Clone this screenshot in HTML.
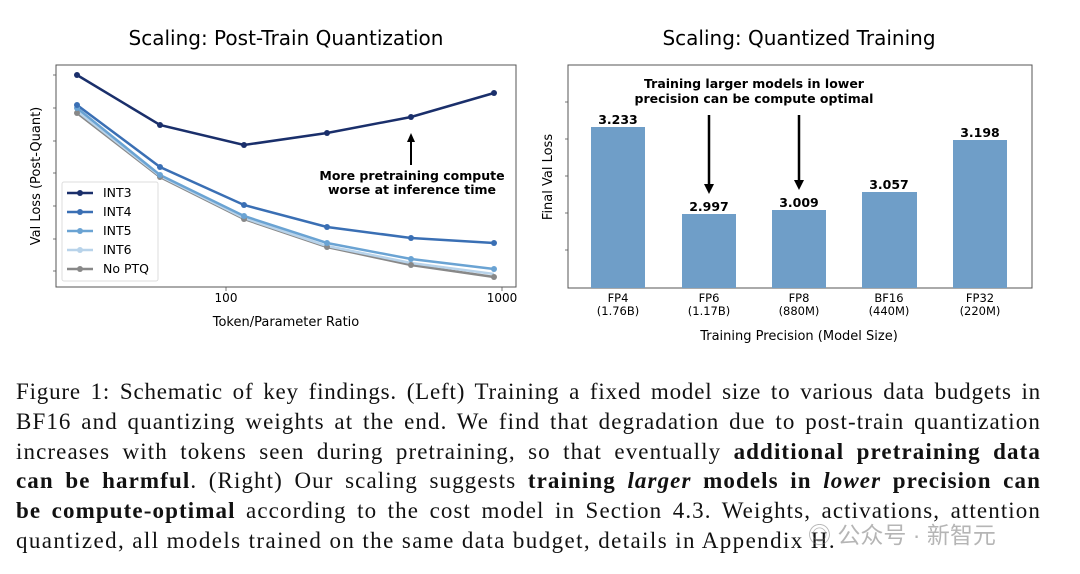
<!DOCTYPE html>
<html><head><meta charset="utf-8"><style>
body{margin:0;background:#fff;width:1080px;height:574px;overflow:hidden;position:relative}
svg{position:absolute;left:0;top:0}
.cap{position:absolute;left:16px;top:377px;width:1025px;font-family:"Liberation Serif",serif;font-size:23px;letter-spacing:1.1px;line-height:29.8px;color:#111}
.cap div{text-align:justify;text-align-last:justify;white-space:normal;height:29.8px;overflow:visible}
.cap div.f{letter-spacing:0.8px}
.cap div.l{text-align-last:left;letter-spacing:1.4px}
</style></head><body>
<svg width="1080" height="574" font-family="DejaVu Sans, Liberation Sans, sans-serif">
<text x="286" y="45" font-size="20" text-anchor="middle">Scaling: Post-Train Quantization</text>
<text x="799" y="45" font-size="20" text-anchor="middle">Scaling: Quantized Training</text>
<rect x="56" y="65" width="460" height="222" fill="none" stroke="#555" stroke-width="1"/>
<g stroke="#555" stroke-width="0.8">
<line x1="53" y1="75" x2="56" y2="75"/><line x1="53" y1="108" x2="56" y2="108"/><line x1="53" y1="141" x2="56" y2="141"/><line x1="53" y1="173" x2="56" y2="173"/><line x1="53" y1="206" x2="56" y2="206"/><line x1="53" y1="239" x2="56" y2="239"/><line x1="53" y1="271" x2="56" y2="271"/>
<line x1="226" y1="287" x2="226" y2="291"/><line x1="502" y1="287" x2="502" y2="291"/>
</g>
<text x="226" y="302" font-size="12" text-anchor="middle">100</text>
<text x="502" y="302" font-size="12" text-anchor="middle">1000</text>
<text x="286" y="326" font-size="13" text-anchor="middle">Token/Parameter Ratio</text>
<text transform="translate(40,176) rotate(-90)" font-size="13" text-anchor="middle">Val Loss (Post-Quant)</text>
<g fill="none" stroke-width="2.5">
<polyline stroke="#888" points="77,113 160,177 244,219 327,247 411,265 494,277"/>
<polyline stroke="#b8d3ea" points="77,111 160,176 244,218 327,246 411,263 494,274"/>
<polyline stroke="#6aa3d3" points="77,108 160,175 244,216 327,243 411,259 494,269"/>
<polyline stroke="#3a6fb4" points="77,105 160,167 244,205 327,227 411,238 494,243"/>
<polyline stroke="#1a2f6b" points="77,75 160,125 244,145 327,133 411,117 494,93"/>
</g>
<g fill="#888"><circle cx="77" cy="113" r="3"/><circle cx="160" cy="177" r="3"/><circle cx="244" cy="219" r="3"/><circle cx="327" cy="247" r="3"/><circle cx="411" cy="265" r="3"/><circle cx="494" cy="277" r="3"/></g>
<g fill="#6aa3d3"><circle cx="77" cy="108" r="3"/><circle cx="160" cy="175" r="3"/><circle cx="244" cy="216" r="3"/><circle cx="327" cy="243" r="3"/><circle cx="411" cy="259" r="3"/><circle cx="494" cy="269" r="3"/></g>
<g fill="#3a6fb4"><circle cx="77" cy="105" r="3"/><circle cx="160" cy="167" r="3"/><circle cx="244" cy="205" r="3"/><circle cx="327" cy="227" r="3"/><circle cx="411" cy="238" r="3"/><circle cx="494" cy="243" r="3"/></g>
<g fill="#1a2f6b"><circle cx="77" cy="75" r="3"/><circle cx="160" cy="125" r="3"/><circle cx="244" cy="145" r="3"/><circle cx="327" cy="133" r="3"/><circle cx="411" cy="117" r="3"/><circle cx="494" cy="93" r="3"/></g>
<line x1="411" y1="165" x2="411" y2="140" stroke="#000" stroke-width="2"/>
<polygon points="411,133 407,142 415,142" fill="#000"/>
<text x="412" y="180" font-size="12.5" font-weight="bold" text-anchor="middle">More pretraining compute</text>
<text x="412" y="194" font-size="12.5" font-weight="bold" text-anchor="middle">worse at inference time</text>
<rect x="62" y="182" width="96" height="99" fill="#fff" stroke="#ddd" rx="2"/>
<g stroke-width="2.5">
<line x1="67" y1="193" x2="93" y2="193" stroke="#1a2f6b"/><circle cx="80" cy="193" r="3" fill="#1a2f6b"/>
<line x1="67" y1="212" x2="93" y2="212" stroke="#3a6fb4"/><circle cx="80" cy="212" r="3" fill="#3a6fb4"/>
<line x1="67" y1="231" x2="93" y2="231" stroke="#6aa3d3"/><circle cx="80" cy="231" r="3" fill="#6aa3d3"/>
<line x1="67" y1="250" x2="93" y2="250" stroke="#b8d3ea"/><circle cx="80" cy="250" r="3" fill="#b8d3ea"/>
<line x1="67" y1="269" x2="93" y2="269" stroke="#888"/><circle cx="80" cy="269" r="3" fill="#888"/>
</g>
<g font-size="12.5"><text x="103" y="197">INT3</text><text x="103" y="216">INT4</text><text x="103" y="235">INT5</text><text x="103" y="254">INT6</text><text x="103" y="273">No PTQ</text></g>
<rect x="568" y="65" width="464" height="223" fill="none" stroke="#555" stroke-width="1"/>
<g stroke="#555" stroke-width="0.8">
<line x1="565" y1="102" x2="568" y2="102"/><line x1="565" y1="139" x2="568" y2="139"/><line x1="565" y1="176" x2="568" y2="176"/><line x1="565" y1="213" x2="568" y2="213"/><line x1="565" y1="250" x2="568" y2="250"/>
</g>
<g fill="#6f9ec8">
<rect x="591" y="127" width="54" height="161"/><rect x="682" y="214" width="54" height="74"/><rect x="772" y="210" width="54" height="78"/><rect x="862" y="192" width="55" height="96"/><rect x="953" y="140" width="54" height="148"/>
</g>
<g font-size="12.5" font-weight="bold" text-anchor="middle">
<text x="618" y="124">3.233</text><text x="709" y="211">2.997</text><text x="799" y="207">3.009</text><text x="889" y="189">3.057</text><text x="980" y="137">3.198</text>
<text x="754" y="88">Training larger models in lower</text><text x="754" y="103">precision can be compute optimal</text>
</g>
<g stroke="#000" stroke-width="2.5"><line x1="709" y1="115" x2="709" y2="186"/><line x1="799" y1="115" x2="799" y2="182"/></g>
<polygon points="709,194 704,184 714,184"/><polygon points="799,190 794,180 804,180"/>
<g font-size="11.5" text-anchor="middle">
<text x="618" y="302">FP4</text><text x="618" y="315">(1.76B)</text>
<text x="709" y="302">FP6</text><text x="709" y="315">(1.17B)</text>
<text x="799" y="302">FP8</text><text x="799" y="315">(880M)</text>
<text x="889" y="302">BF16</text><text x="889" y="315">(440M)</text>
<text x="980" y="302">FP32</text><text x="980" y="315">(220M)</text>
</g>
<text x="799" y="340" font-size="13" text-anchor="middle">Training Precision (Model Size)</text>
<text transform="translate(552,177) rotate(-90)" font-size="13" text-anchor="middle">Final Val Loss</text>
</svg>
<div class="cap">
<div class="f">Figure 1: Schematic of key findings. (Left) Training a fixed model size to various data budgets in</div>
<div>BF16 and quantizing weights at the end. We find that degradation due to post-train quantization</div>
<div>increases with tokens seen during pretraining, so that eventually <b>additional pretraining data</b></div>
<div><b>can be harmful</b>. (Right) Our scaling suggests <b>training <i>larger</i> models in <i>lower</i> precision can</b></div>
<div><b>be compute-optimal</b> according to the cost model in Section 4.3. Weights, activations, attention</div>
<div class="l">quantized, all models trained on the same data budget, details in Appendix H.</div>
</div>
<div style="position:absolute;left:808px;top:516px;font-family:'Liberation Sans','Noto Sans CJK SC',sans-serif;font-size:23px;color:rgba(120,120,120,0.55)">◎ 公众号 · 新智元</div>
</body></html>
